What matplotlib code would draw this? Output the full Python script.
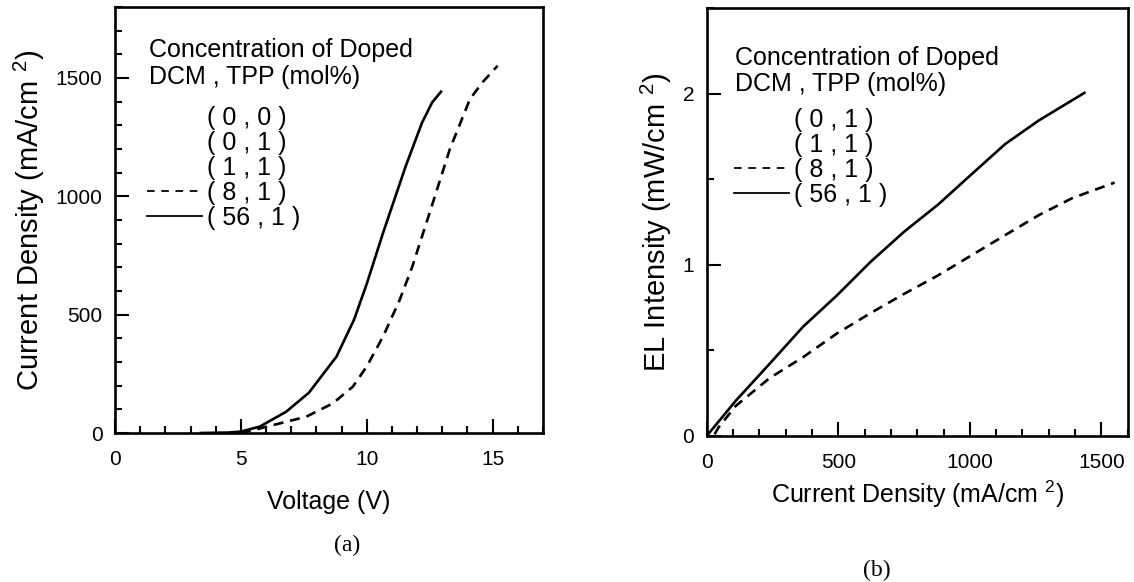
import numpy as np
import matplotlib
matplotlib.use("Agg")
import matplotlib.pyplot as plt
from matplotlib.lines import Line2D
from matplotlib.ticker import MultipleLocator

plt.rcParams['font.family'] = ['Liberation Sans', 'DejaVu Sans']
plt.rcParams['mathtext.default'] = 'regular'

# (a) J-V curves
volt_56 = [3.4, 4.5, 5.0, 5.75, 6.8, 7.7, 8.8, 9.5, 10.0, 10.65, 11.55, 12.2, 12.6, 12.95]
cur_56 = [0, 2, 6, 27, 90, 170, 323, 480, 630, 846, 1128, 1312, 1397, 1442]
volt_8 = [5.0, 5.6, 6.3, 7.6, 8.65, 9.45, 10.0, 10.65, 11.3, 11.8, 12.5, 13.3, 14.1, 14.6, 15.2]
cur_8 = [0, 15, 34, 69, 125, 196, 281, 408, 560, 700, 931, 1199, 1411, 1482, 1552]

# (b) EL intensity vs current density
jb_56 = [0, 110, 238, 366, 494, 622, 750, 878, 1006, 1134, 1262, 1435]
el_56 = [0, 0.205, 0.42, 0.638, 0.82, 1.016, 1.193, 1.35, 1.528, 1.705, 1.843, 2.004]
jb_8 = [30, 45, 110, 238, 366, 494, 622, 750, 878, 1006, 1134, 1262, 1390, 1550]
el_8 = [0.01, 0.05, 0.175, 0.337, 0.46, 0.598, 0.717, 0.83, 0.937, 1.055, 1.173, 1.29, 1.39, 1.48]

labels_a = ['( 0 , 0 )', '( 0 , 1 )', '( 1 , 1 )', '( 8 , 1 )', '( 56 , 1 )']
labels_b = ['( 0 , 1 )', '( 1 , 1 )', '( 8 , 1 )', '( 56 , 1 )']
title_txt = 'Concentration of Doped\nDCM , TPP (mol%)'

LW = 1.9
DASH = (3.8, 2.6)

fig = plt.figure(figsize=(11.34, 5.82), dpi=100)
ax1 = fig.add_axes([0.1014, 0.256, 0.3774, 0.732])
ax2 = fig.add_axes([0.6232, 0.2509, 0.3713, 0.7354])


def style_axes(ax):
    for s in ax.spines.values():
        s.set_linewidth(1.9)
    ax.tick_params(which='both', direction='in', top=False, right=False,
                   labelsize=15, width=1.5)
    ax.tick_params(axis='x', which='both', pad=12)
    ax.tick_params(axis='y', which='both', pad=9)
    ax.tick_params(which='major', length=10)
    ax.tick_params(which='minor', length=5)


def add_key(ax, labels, anchor):
    n_blank = len(labels) - 2
    handles = [Line2D([], [], color='none') for _ in range(n_blank)]
    handles += [Line2D([], [], color='black', lw=1.3, dashes=(4.2, 3.7)),
                Line2D([], [], color='black', lw=1.3)]
    ax.legend(handles, labels, loc='upper left', bbox_to_anchor=anchor,
              frameon=False, fontsize=18, handlelength=2.2, handletextpad=0.2,
              labelspacing=0.04, borderpad=0, borderaxespad=0)


# ---- (a)
ax1.plot(volt_8, cur_8, color='black', lw=LW, dashes=DASH)
ax1.plot(volt_56, cur_56, color='black', lw=LW)
ax1.set_xlim(0, 17)
ax1.set_ylim(0, 1800)
ax1.xaxis.set_major_locator(MultipleLocator(5))
ax1.xaxis.set_minor_locator(MultipleLocator(1))
ax1.yaxis.set_major_locator(MultipleLocator(500))
ax1.yaxis.set_minor_locator(MultipleLocator(100))
style_axes(ax1)
ax1.set_xlabel('Voltage (V)', fontsize=18, labelpad=15)
ax1.set_ylabel('Current Density (mA/cm $^2$)', fontsize=21, labelpad=6)
ax1.text(0.079, 0.928, title_txt, transform=ax1.transAxes, fontsize=18,
         va='top', ha='left', linespacing=1.15)
add_key(ax1, labels_a, (0.075, 0.768))

# ---- (b)
ax2.plot(jb_8, el_8, color='black', lw=LW, dashes=DASH)
ax2.plot(jb_56, el_56, color='black', lw=LW)
ax2.set_xlim(0, 1600)
ax2.set_ylim(0, 2.5)
ax2.xaxis.set_major_locator(MultipleLocator(500))
ax2.xaxis.set_minor_locator(MultipleLocator(100))
ax2.yaxis.set_major_locator(MultipleLocator(1))
ax2.yaxis.set_minor_locator(MultipleLocator(0.5))
style_axes(ax2)
ax2.set_xlabel('Current Density (mA/cm $^2$)', fontsize=18, labelpad=5)
ax2.set_ylabel('EL Intensity (mW/cm $^2$)', fontsize=21, labelpad=6)
ax2.text(0.067, 0.912, title_txt, transform=ax2.transAxes, fontsize=18,
         va='top', ha='left', linespacing=1.15)
add_key(ax2, labels_b, (0.065, 0.766))

fig.text(347 / 1134, 1 - 545 / 582, '(a)', family='Liberation Serif', fontsize=17,
         ha='center', va='center')
fig.text(877 / 1134, 1 - 570 / 582, '(b)', family='Liberation Serif', fontsize=17,
         ha='center', va='center')

fig.savefig('out.png', dpi=100)
